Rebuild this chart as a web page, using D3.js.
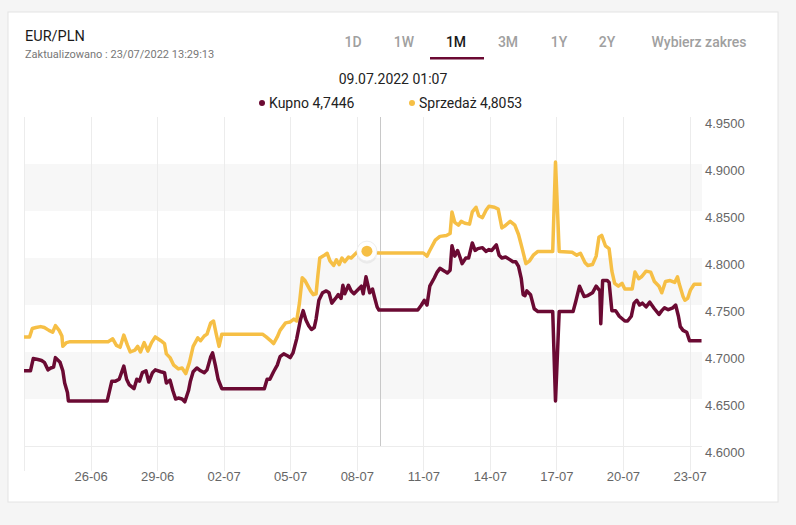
<!DOCTYPE html>
<html>
<head>
<meta charset="utf-8">
<script src="https://cdn.jsdelivr.net/npm/d3@7"></script>
<style>
  body { margin: 0; background: #f5f5f5; }
  svg { display: block; }
  .hdr { font-family: Roboto, "Noto Sans", sans-serif; }
  .axis text { font-family: "Liberation Sans", Arial, sans-serif; font-size: 13px; fill: #666; }
</style>
</head>
<body>
<svg id="chart" width="796" height="525"></svg>
<script>
// Kupno (buy) series
var buyTimes = ["06-23 00","06-23 07","06-23 10","06-23 15","06-23 19","06-23 22","06-24 02","06-24 05","06-24 08","06-24 10",
  "06-24 15","06-24 18","06-24 20","06-24 23","06-25 00","06-26 18","06-26 23","06-27 03","06-27 07","06-27 12",
  "06-27 15","06-27 18","06-27 23","06-28 02","06-28 05","06-28 08","06-28 12","06-28 15","06-28 19","06-28 22",
  "06-29 04","06-29 08","06-29 10","06-29 14","06-29 17","06-29 20","06-29 23","06-30 03","06-30 06","06-30 10",
  "06-30 12","06-30 15","06-30 19","06-30 23","07-01 03","07-01 06","07-01 10","07-01 12","07-01 15","07-01 18",
  "07-01 22","07-03 20","07-03 23","07-04 02","07-04 06","07-04 10","07-04 13","07-04 17","07-04 21","07-05 00",
  "07-05 03","07-05 07","07-05 11","07-05 14","07-05 17","07-05 20","07-05 23","07-06 02","07-06 04","07-06 07",
  "07-06 11","07-06 15","07-06 18","07-06 21","07-07 01","07-07 04","07-07 07","07-07 09","07-07 11","07-07 15",
  "07-07 18","07-07 21","07-08 02","07-08 05","07-08 07","07-08 10","07-08 14","07-08 17","07-08 19","07-08 22",
  "07-09 00","07-10 18","07-10 22","07-11 01","07-11 04","07-11 07","07-11 12","07-11 15","07-11 18","07-11 23",
  "07-12 02","07-12 05","07-12 07","07-12 10","07-12 13","07-12 16","07-12 18","07-12 22","07-13 01","07-13 05",
  "07-13 08","07-13 11","07-13 16","07-13 20","07-13 23","07-14 02","07-14 07","07-14 10","07-14 13","07-14 17",
  "07-14 22","07-15 01","07-15 04","07-15 07","07-15 10","07-15 12","07-15 14","07-15 16","07-15 20","07-16 00",
  "07-16 04","07-16 20","07-16 23","07-17 03","07-17 18","07-17 21","07-18 01","07-18 06","07-18 10","07-18 15",
  "07-18 19","07-18 23","07-19 00","07-19 02","07-19 07","07-19 09","07-19 12","07-19 16","07-19 20","07-20 02",
  "07-20 05","07-20 09","07-20 12","07-20 15","07-20 18","07-20 21","07-21 01","07-21 05","07-21 10","07-21 15",
  "07-21 18","07-21 21","07-22 01","07-22 06","07-22 09","07-22 12","07-22 14","07-22 17","07-22 21","07-23 00",
  "07-23 13"];
var buyValues = [4.680,4.680,4.693,4.692,4.691,4.689,4.681,4.683,4.684,4.694,
  4.689,4.680,4.667,4.657,4.648,4.648,4.669,4.669,4.671,4.685,
  4.671,4.665,4.661,4.671,4.669,4.678,4.680,4.668,4.678,4.681,
  4.679,4.678,4.667,4.670,4.659,4.650,4.651,4.650,4.647,4.659,
  4.669,4.679,4.683,4.680,4.678,4.681,4.695,4.699,4.686,4.671,
  4.661,4.661,4.671,4.671,4.679,4.686,4.695,4.698,4.696,4.694,
  4.699,4.714,4.734,4.744,4.734,4.728,4.724,4.726,4.735,4.755,
  4.763,4.765,4.763,4.752,4.757,4.761,4.757,4.771,4.762,4.771,
  4.765,4.762,4.767,4.770,4.762,4.780,4.763,4.767,4.759,4.748,
  4.7446,4.7446,4.750,4.755,4.750,4.770,4.779,4.785,4.789,4.786,
  4.784,4.787,4.813,4.802,4.808,4.800,4.794,4.800,4.800,4.816,
  4.808,4.810,4.811,4.807,4.809,4.808,4.814,4.803,4.800,4.801,
  4.798,4.796,4.796,4.791,4.778,4.761,4.760,4.765,4.761,4.746,
  4.743,4.743,4.648,4.743,4.743,4.754,4.770,4.759,4.760,4.763,
  4.770,4.765,4.730,4.776,4.776,4.774,4.744,4.744,4.738,4.733,
  4.733,4.738,4.752,4.755,4.750,4.752,4.748,4.753,4.746,4.740,
  4.744,4.747,4.745,4.747,4.750,4.738,4.727,4.723,4.721,4.712,
  4.712];

// Sprzedaz (sell) series
var sellTimes = ["06-23 00","06-23 06","06-23 09","06-23 13","06-23 18","06-23 22","06-24 03","06-24 07","06-24 10","06-24 14",
  "06-24 17","06-24 18","06-24 22","06-25 02","06-26 19","06-27 00","06-27 04","06-27 08","06-27 12","06-27 16",
  "06-27 19","06-28 00","06-28 03","06-28 06","06-28 10","06-28 14","06-28 18","06-28 22","06-29 04","06-29 08",
  "06-29 10","06-29 14","06-29 18","06-29 23","06-30 03","06-30 07","06-30 11","06-30 15","06-30 20","06-30 23",
  "07-01 03","07-01 06","07-01 10","07-01 13","07-01 16","07-01 19","07-01 22","07-03 18","07-03 22","07-04 04",
  "07-04 06","07-04 10","07-04 13","07-04 19","07-05 00","07-05 04","07-05 07","07-05 10","07-05 13","07-05 16",
  "07-05 22","07-06 01","07-06 04","07-06 06","07-06 08","07-06 13","07-06 16","07-06 19","07-06 23","07-07 02",
  "07-07 05","07-07 08","07-07 11","07-07 15","07-07 18","07-07 21","07-08 00","07-08 08","07-08 16","07-09 00",
  "07-11 00","07-11 04","07-11 07","07-11 13","07-11 18","07-12 01","07-12 05","07-12 07","07-12 10","07-12 14",
  "07-12 17","07-12 21","07-13 02","07-13 05","07-13 09","07-13 12","07-13 16","07-13 20","07-13 23","07-14 05",
  "07-14 09","07-14 13","07-14 16","07-14 22","07-15 03","07-15 07","07-15 11","07-15 15","07-15 19","07-15 23",
  "07-16 04","07-16 20","07-16 23","07-17 03","07-17 17","07-17 22","07-18 02","07-18 07","07-18 10","07-18 15",
  "07-18 19","07-18 22","07-19 01","07-19 05","07-19 09","07-19 12","07-19 15","07-19 19","07-19 23","07-20 02",
  "07-20 10","07-20 13","07-20 17","07-20 20","07-21 01","07-21 06","07-21 10","07-21 15","07-21 18","07-21 22",
  "07-22 03","07-22 08","07-22 11","07-22 13","07-22 17","07-22 19","07-22 22","07-23 01","07-23 05","07-23 13"];
var sellValues = [4.716,4.716,4.725,4.726,4.727,4.726,4.723,4.721,4.728,4.723,
  4.717,4.706,4.710,4.711,4.711,4.714,4.707,4.705,4.718,4.707,
  4.700,4.702,4.706,4.700,4.710,4.701,4.710,4.716,4.712,4.709,
  4.698,4.694,4.686,4.682,4.683,4.677,4.689,4.706,4.715,4.712,
  4.717,4.719,4.731,4.733,4.719,4.706,4.719,4.719,4.716,4.711,
  4.709,4.716,4.723,4.731,4.732,4.735,4.733,4.752,4.779,4.776,
  4.765,4.761,4.762,4.782,4.800,4.803,4.805,4.797,4.792,4.798,
  4.793,4.800,4.796,4.801,4.800,4.803,4.806,4.807,4.806,4.8053,
  4.8053,4.802,4.808,4.819,4.823,4.824,4.826,4.849,4.838,4.835,
  4.839,4.837,4.836,4.849,4.854,4.845,4.843,4.851,4.855,4.854,
  4.852,4.832,4.834,4.839,4.835,4.825,4.810,4.794,4.797,4.803,
  4.807,4.807,4.902,4.807,4.806,4.803,4.805,4.795,4.792,4.793,
  4.802,4.822,4.824,4.813,4.810,4.786,4.773,4.770,4.773,4.767,
  4.767,4.785,4.778,4.780,4.786,4.785,4.775,4.770,4.763,4.775,
  4.776,4.774,4.780,4.772,4.759,4.755,4.757,4.766,4.772,4.772];

var yTicks = [4.60, 4.65, 4.70, 4.75, 4.80, 4.85, 4.90, 4.95];
var yBands = [[4.65, 4.70], [4.75, 4.80], [4.85, 4.90]];
var xTickLabels = ["26-06","29-06","02-07","05-07","08-07","11-07","14-07","17-07","20-07","23-07"];
var ranges = ["1D","1W","1M","3M","1Y","2Y","Wybierz zakres"];
var hoverTime = "07-09 01:07";

var parseT = d3.timeParse("%Y-%m-%d %H");
var parseM = d3.timeParse("%Y-%m-%d %H:%M");
var parseTick = d3.timeParse("%d-%m-%Y");
function toDate(s){ return parseT("2022-" + s); }

var buy = buyTimes.map(function(t, i){ return { t: toDate(t), v: buyValues[i] }; });
var sell = sellTimes.map(function(t, i){ return { t: toDate(t), v: sellValues[i] }; });

var svg = d3.select("#chart");
var maroon = "#6b0a33", gold = "#f6bf45";

// card
svg.append("rect").attr("x", 8).attr("y", 12).attr("width", 770).attr("height", 490)
  .attr("fill", "#fff").attr("stroke", "#e4e4e4");

var plotLeft = 24, plotRight = 702, plotTop = 117, plotBottom = 446;

var x = d3.scaleTime()
  .domain([parseM("2022-06-23 00:00"), parseM("2022-07-23 13:30")])
  .range([plotLeft, plotRight]);
var y = d3.scaleLinear().domain([4.60, 4.95]).range([plotBottom, plotTop]);

var xTicks = xTickLabels.map(function(s){ return parseTick(s + "-2022"); });

// bands
svg.append("g").selectAll("rect").data(yBands).enter().append("rect")
  .attr("x", plotLeft).attr("width", plotRight - plotLeft)
  .attr("y", function(d){ return y(d[1]); })
  .attr("height", function(d){ return y(d[0]) - y(d[1]); })
  .attr("fill", "#f7f7f7");

// vertical grid
svg.append("g").selectAll("line").data([x.domain()[0]].concat(xTicks)).enter().append("line")
  .attr("x1", function(d){ return Math.round(x(d)) + 0.5; })
  .attr("x2", function(d){ return Math.round(x(d)) + 0.5; })
  .attr("y1", plotTop).attr("y2", 471)
  .attr("stroke", "#ececec");

// bottom line
svg.append("line").attr("x1", plotLeft).attr("x2", plotRight)
  .attr("y1", plotBottom + 0.5).attr("y2", plotBottom + 0.5).attr("stroke", "#ececec");

// axes
var yAxis = d3.axisRight(y).tickValues(yTicks).tickFormat(d3.format(".4f")).tickSize(0).tickPadding(3);
var gy = svg.append("g").attr("class", "axis").attr("transform", "translate(" + plotRight + ",0)").call(yAxis);
gy.select(".domain").remove();
gy.selectAll("text").attr("dy", "0.85em").attr("y", -1);

var xAxis = d3.axisBottom(x).tickValues(xTicks).tickFormat(d3.timeFormat("%d-%m")).tickSize(0).tickPadding(26);
var gx = svg.append("g").attr("class", "axis").attr("transform", "translate(0," + plotBottom + ")").call(xAxis);
gx.select(".domain").remove();

// crosshair
var hx = x(parseM("2022-" + hoverTime));
svg.append("line").attr("x1", Math.round(hx) + 0.5).attr("x2", Math.round(hx) + 0.5)
  .attr("y1", plotTop).attr("y2", plotBottom).attr("stroke", "#c8c8c8");

// lines
var line = d3.line().x(function(d){ return x(d.t); }).y(function(d){ return y(d.v); });
svg.append("path").datum(sell).attr("d", line).attr("fill", "none")
  .attr("stroke", gold).attr("stroke-width", 3.5).attr("stroke-linejoin", "round");
svg.append("path").datum(buy).attr("d", line).attr("fill", "none")
  .attr("stroke", maroon).attr("stroke-width", 3.5).attr("stroke-linejoin", "round");

// hover marker
var mx = x(toDate("07-08 11")), my = y(4.8073);
svg.append("circle").attr("cx", mx).attr("cy", my + 2).attr("r", 10.5)
  .attr("fill", "#000").attr("opacity", 0.05);
svg.append("circle").attr("cx", mx).attr("cy", my).attr("r", 10)
  .attr("fill", "#fff").attr("stroke", "#eee");
svg.append("circle").attr("cx", mx).attr("cy", my).attr("r", 5.5).attr("fill", gold);

// header
svg.append("text").attr("class", "hdr").attr("x", 25).attr("y", 41)
  .attr("font-size", 14.5).attr("fill", "#1a1a1a").text("EUR/PLN");
svg.append("text").attr("class", "hdr").attr("x", 25).attr("y", 58)
  .attr("font-size", 11).attr("fill", "#777").text("Zaktualizowano : 23/07/2022 13:29:13");

var tabX = [353, 404, 456, 508, 559, 607, 699];
svg.append("g").selectAll("text").data(ranges).enter().append("text")
  .attr("class", "hdr")
  .attr("x", function(d, i){ return tabX[i]; }).attr("y", 47)
  .attr("text-anchor", "middle").attr("font-size", 14).attr("font-weight", 500)
  .attr("fill", function(d){ return d === "1M" ? "#1a1a1a" : "#a0a0a0"; })
  .text(function(d){ return d; });
svg.append("rect").attr("x", 430).attr("y", 57).attr("width", 54).attr("height", 2.5).attr("fill", maroon);

// tooltip-like legend
svg.append("text").attr("class", "hdr").attr("x", 393).attr("y", 84).attr("text-anchor", "middle")
  .attr("font-size", 14).attr("fill", "#222").text("09.07.2022 01:07");
svg.append("circle").attr("cx", 262).attr("cy", 103).attr("r", 3).attr("fill", maroon);
svg.append("text").attr("class", "hdr").attr("x", 269).attr("y", 108)
  .attr("font-size", 14).attr("fill", "#222").text("Kupno 4,7446");
svg.append("circle").attr("cx", 412).attr("cy", 103).attr("r", 3).attr("fill", gold);
svg.append("text").attr("class", "hdr").attr("x", 419).attr("y", 108)
  .attr("font-size", 14).attr("fill", "#222").text("Sprzedaż 4,8053");
</script>
</body>
</html>
